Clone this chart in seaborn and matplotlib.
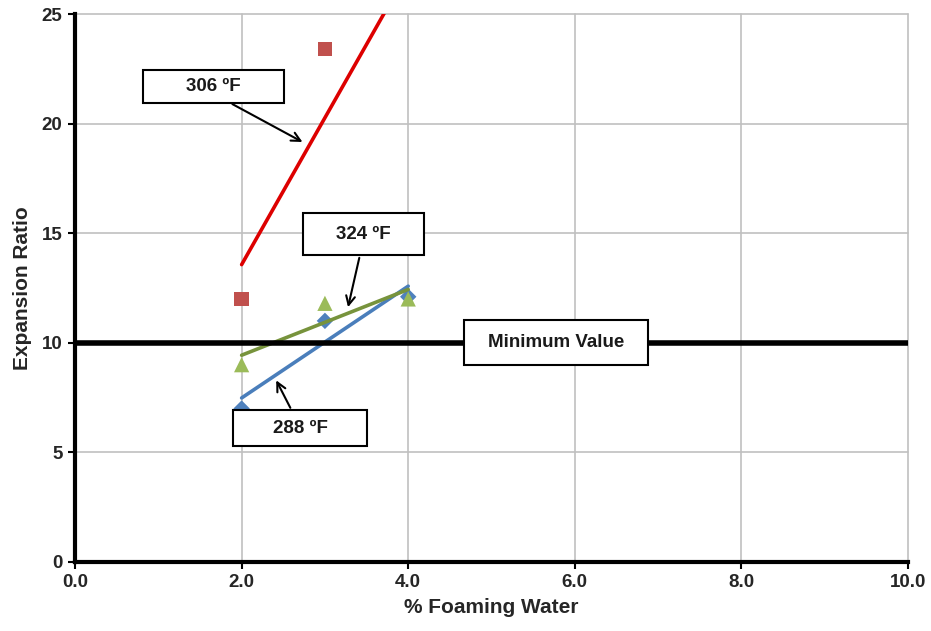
import matplotlib
matplotlib.use("Agg")
import matplotlib.pyplot as plt
import seaborn as sns
import pandas as pd
from matplotlib.patches import Rectangle

# ---- data ----
foaming_water = [2.0, 3.0, 4.0]
ratio_288 = [7.0, 11.0, 12.1]
ratio_306 = [12.0, 23.4, 25.4]
ratio_324 = [9.0, 11.8, 12.0]
minimum_value = 10
series_names = ["288 ºF", "306 ºF", "324 ºF"]
x_ticks = [0, 2, 4, 6, 8, 10]
y_ticks = [0, 5, 10, 15, 20, 25]

df = pd.DataFrame({
    "x": foaming_water * 3,
    "y": ratio_288 + ratio_306 + ratio_324,
    "series": sum([[s] * 3 for s in series_names], []),
})

marker_colors = {"288 ºF": "#4f81bd", "306 ºF": "#c0504d", "324 ºF": "#9bbb59"}
line_colors = {"288 ºF": "#4a7ebb", "306 ºF": "#dd0000", "324 ºF": "#77933c"}
markers = {"288 ºF": "D", "306 ºF": "s", "324 ºF": "^"}
sizes = {"288 ºF": 70, "306 ºF": 110, "324 ºF": 120}

sns.set_theme(style="white")
plt.rcParams["font.family"] = ["Liberation Sans", "DejaVu Sans"]

fig = plt.figure(figsize=(9.31, 6.31), dpi=100)
ax = fig.add_axes([0.0806, 0.1094, 0.8947, 0.8684])

for s in series_names:
    sub = df[df["series"] == s]
    ax.scatter(sub["x"], sub["y"], marker=markers[s], s=sizes[s],
               color=marker_colors[s], edgecolor="none", zorder=3, clip_on=True)
    sns.regplot(data=sub, x="x", y="y", ax=ax, scatter=False, ci=None,
                truncate=True, line_kws={"color": line_colors[s], "lw": 2.6, "zorder": 4})

ax.axhline(minimum_value, color="black", lw=4, zorder=5)

ax.set_xlim(0, 10)
ax.set_ylim(0, 25)
ax.set_xticks(x_ticks)
ax.set_xticklabels([f"{v:.1f}" for v in x_ticks])
ax.set_yticks(y_ticks)
ax.grid(True, color="#c0c0c0", lw=1.2)
ax.set_axisbelow(True)
for gl in ax.get_xgridlines() + ax.get_ygridlines():
    gl.set_clip_on(False)
for sp in ["top", "right"]:
    ax.spines[sp].set_visible(False)
for sp in ["left", "bottom"]:
    ax.spines[sp].set_color("black")
    ax.spines[sp].set_linewidth(3)
    ax.spines[sp].set_zorder(6)
ax.tick_params(axis="both", which="major", direction="out", length=5, width=1.5,
               color="black", labelsize=13.5, pad=4,
               left=True, bottom=True)
for lab in ax.get_xticklabels() + ax.get_yticklabels():
    lab.set_fontweight("bold")
    lab.set_color("#262626")

ax.set_xlabel("% Foaming Water", fontsize=15, fontweight="bold", color="#262626", labelpad=5)
ax.set_ylabel("Expansion Ratio", fontsize=15, fontweight="bold", color="#262626", labelpad=7)

# ---- callout boxes (x0, y0, width, height in data units) ----
def callout(text, x0, y0, w, h, tail=None, tip=None):
    ax.add_patch(Rectangle((x0, y0), w, h, facecolor="white", edgecolor="black",
                           lw=1.5, zorder=7, clip_on=False))
    ax.text(x0 + w / 2, y0 + h / 2, text, ha="center", va="center", fontsize=13.5,
            fontweight="bold", color="#1a1a1a", zorder=8)
    if tip is not None:
        ax.annotate("", xy=tip, xytext=tail,
                    arrowprops=dict(arrowstyle="->", color="black", lw=1.5,
                                    mutation_scale=16), zorder=8)

callout("306 ºF", 0.816, 20.95, 1.693, 1.51, tail=(1.86, 20.95), tip=(2.76, 19.1))
callout("324 ºF", 2.737, 14.0, 1.453, 1.92, tail=(3.42, 14.0), tip=(3.27, 11.5))
callout("288 ºF", 1.897, 5.28, 1.609, 1.64, tail=(2.60, 6.92), tip=(2.40, 8.4))
callout("Minimum Value", 4.67, 8.99, 2.21, 2.05)

fig.savefig("out.png", dpi=100, facecolor="white")
